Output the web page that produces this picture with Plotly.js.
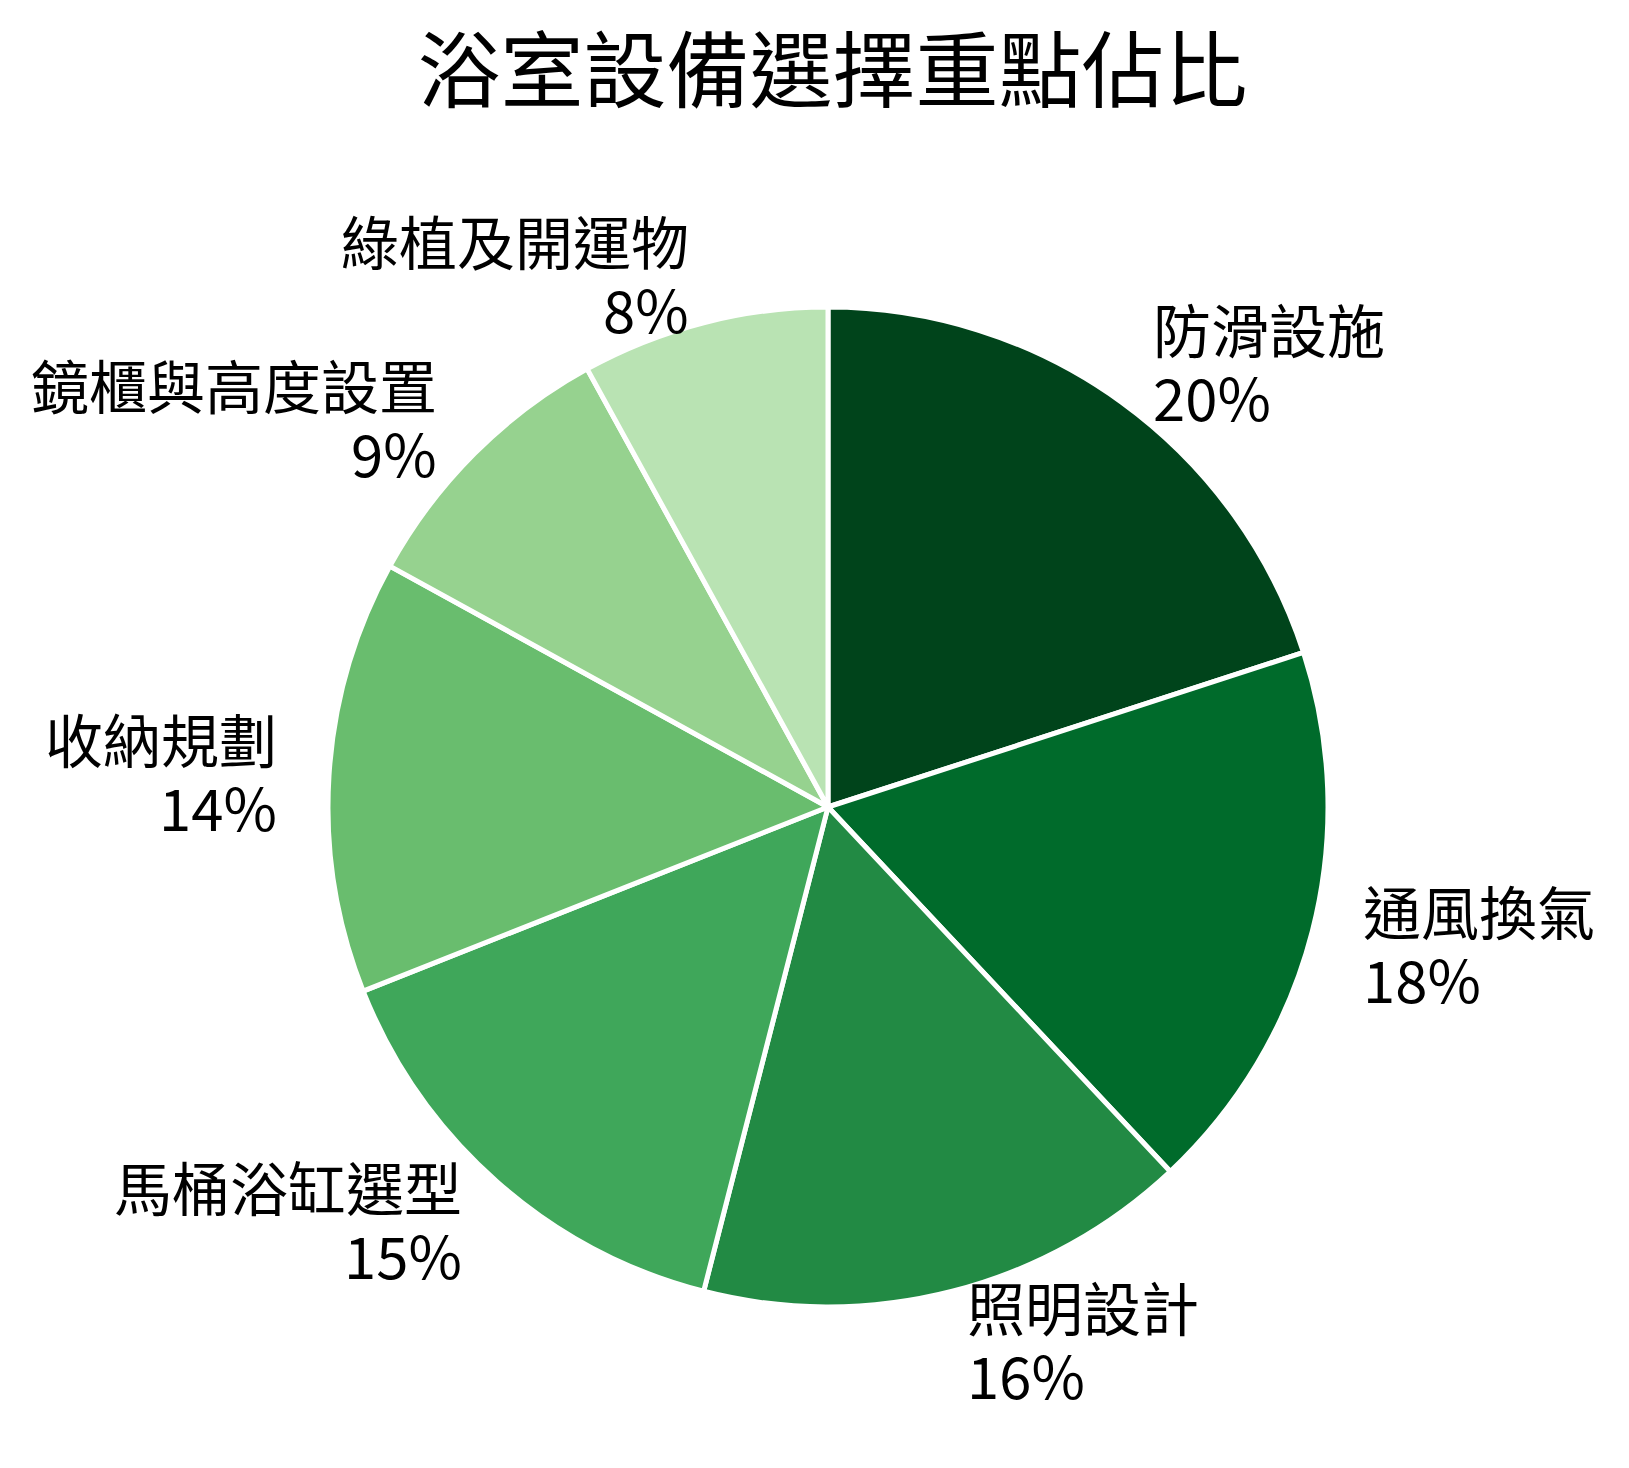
<!DOCTYPE html>
<html>
<head>
<meta charset="utf-8">
<script src="https://cdn.plot.ly/plotly-3.0.1.min.js"></script>
<style>
  html, body { margin: 0; padding: 0; background: #fff; }
  #chart { width: 1629px; height: 1468px; }
</style>
</head>
<body>
<div id="chart"></div>
<script>
const labels = ['防滑設施', '通風換氣', '照明設計', '馬桶浴缸選型', '收納規劃', '鏡櫃與高度設置', '綠植及開運物'];
const values = [20, 18, 16, 15, 14, 9, 8];
const colors = ['#00441b', '#006b2b', '#228a44', '#3fa75a', '#69bd6e', '#96d28f', '#b9e3b3'];

const W = 1629, H = 1468;
const cx = 828, cy = 807, R = 500; // pie centre / radius in px
const font = '"Noto Sans CJK TC", "Noto Sans CJK SC", sans-serif';

// label placement like matplotlib: 1.1 * radius along slice bisector,
// name and percent as two lines around that point
function buildAnnotations() {
  const total = values.reduce((a, b) => a + b, 0);
  const out = [];
  let acc = 0;
  values.forEach((v, i) => {
    const mid = (acc + v / 2) / total * 2 * Math.PI;
    acc += v;
    const px = cx + 1.1 * R * Math.sin(mid);
    const py = cy - 1.1 * R * Math.cos(mid);
    const side = Math.sin(mid) >= 0 ? 'left' : 'right';
    const pct = Math.round(v / total * 100) + '%';
    [[labels[i], py - 34], [pct, py + 34]].forEach(([txt, y]) => {
      out.push({
        xref: 'paper', yref: 'paper',
        x: px / W, y: 1 - y / H,
        xanchor: side, yanchor: 'middle', align: side,
        text: txt, showarrow: false,
        font: { family: font, size: 58, color: '#000' }
      });
    });
  });
  return out;
}

const data = [{
  type: 'pie',
  labels, values,
  sort: false, direction: 'clockwise', rotation: 0,
  marker: { colors, line: { color: '#fff', width: 5 } },
  textinfo: 'none', hoverinfo: 'none',
  domain: {
    x: [(cx - R) / W, (cx + R) / W],
    y: [1 - (cy + R) / H, 1 - (cy - R) / H]
  }
}];

const layout = {
  width: W, height: H,
  margin: { l: 0, r: 0, t: 0, b: 0 },
  paper_bgcolor: '#fff',
  showlegend: false,
  title: {
    text: '浴室設備選擇重點佔比',
    font: { family: font, size: 83, color: '#000' },
    x: 0.511, xanchor: 'center', y: 1 - 72 / H, yanchor: 'middle'
  },
  annotations: buildAnnotations()
};

Plotly.newPlot('chart', data, layout, { displayModeBar: false, staticPlot: true });
</script>
</body>
</html>
